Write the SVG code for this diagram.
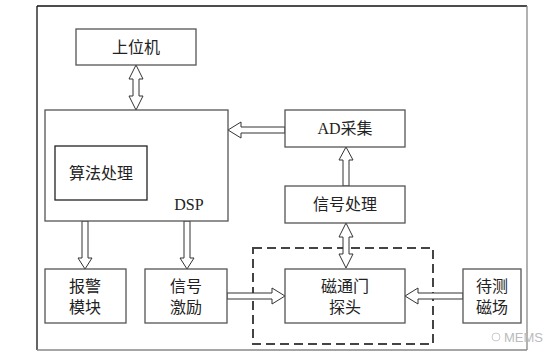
<svg xmlns="http://www.w3.org/2000/svg" width="559" height="360" viewBox="0 0 559 360">
<style>
.box{fill:#fff;stroke:#555;stroke-width:1.3}
.t{font-family:"Liberation Serif","Noto Sans CJK SC",serif;font-size:16px;fill:#222;text-anchor:middle}
.arr{fill:#fff;stroke:#333;stroke-width:1}
</style>
<rect x="0" y="0" width="559" height="360" fill="#fff"/>
<g id="frame">
<line x1="37" y1="6" x2="527" y2="6" stroke="#111" stroke-width="1.3"/>
<line x1="37" y1="6" x2="37" y2="350" stroke="#111" stroke-width="1.3"/>
<line x1="527" y1="6" x2="527" y2="350" stroke="#888" stroke-width="1.3"/>
<line x1="37" y1="350" x2="527" y2="350" stroke="#888" stroke-width="1.3"/>
</g>
<g id="dashed-region">
<rect x="253" y="248" width="180" height="96" fill="none" stroke="#444" stroke-width="2" stroke-dasharray="9,5"/>
</g>
<g id="connectors">
<!-- 上位机 <-> DSP -->
<path class="arr" d="M136,65 L143,79 L139,79 L139,96 L143,96 L136,110 L129,96 L133,96 L133,79 L129,79 Z"/>
<!-- AD -> DSP -->
<path class="arr" d="M228,130 L241,122 L241,127 L285,127 L285,133 L241,133 L241,138 Z"/>
<!-- 信号处理 -> AD -->
<path class="arr" d="M346,147 L353,160 L349,160 L349,186 L343,186 L343,160 L339,160 Z"/>
<!-- 信号处理 <-> 磁通门 -->
<path class="arr" d="M346,223 L353,237 L349,237 L349,254 L353,254 L346,268 L339,254 L343,254 L343,237 L339,237 Z"/>
<!-- DSP -> 报警 -->
<path class="arr" d="M85,269 L78,258 L82,258 L82,221 L88,221 L88,258 L92,258 Z"/>
<!-- DSP -> 信号激励 -->
<path class="arr" d="M187,269 L180,258 L184,258 L184,221 L190,221 L190,258 L194,258 Z"/>
<!-- 信号激励 -> 磁通门 -->
<path class="arr" d="M285,296 L272,288 L272,293 L227,293 L227,299 L272,299 L272,304 Z"/>
<!-- 待测磁场 -> 磁通门 -->
<path class="arr" d="M405,296 L418,288 L418,293 L463,293 L463,299 L418,299 L418,304 Z"/>
</g>
<g id="n-pc"><rect class="box" x="76" y="29" width="120" height="36"/><text class="t" x="136" y="53">上位机</text></g>
<g id="n-dsp"><rect class="box" x="45" y="110" width="183" height="111"/><text class="t" x="189" y="210">DSP</text></g>
<g id="n-algo"><rect x="55" y="146" width="92" height="54" fill="#fff" stroke="#222" stroke-width="1.3"/><text class="t" x="101" y="179">算法处理</text></g>
<g id="n-ad"><rect class="box" x="285" y="110" width="120" height="37"/><text class="t" x="345" y="134">AD采集</text></g>
<g id="n-sp"><rect class="box" x="285" y="186" width="120" height="37"/><text class="t" x="345" y="210">信号处理</text></g>
<g id="n-alarm"><rect class="box" x="45" y="269" width="81" height="54"/><text class="t" x="85" y="292">报警</text><text class="t" x="85" y="313">模块</text></g>
<g id="n-exc"><rect class="box" x="145" y="269" width="82" height="54"/><text class="t" x="186" y="292">信号</text><text class="t" x="186" y="313">激励</text></g>
<g id="n-probe"><rect class="box" x="285" y="269" width="120" height="54"/><text class="t" x="345" y="292">磁通门</text><text class="t" x="345" y="313">探头</text></g>
<g id="n-field"><rect class="box" x="463" y="269" width="58" height="54"/><text class="t" x="492" y="292">待测</text><text class="t" x="492" y="313">磁场</text></g>
<g id="watermark">
<circle cx="496" cy="337" r="4" fill="none" stroke="#ccc" stroke-width="1"/>
<text x="504" y="342" font-family="Liberation Sans,Arial,sans-serif" font-size="13" fill="#bbb">MEMS</text>
</g>
</svg>
